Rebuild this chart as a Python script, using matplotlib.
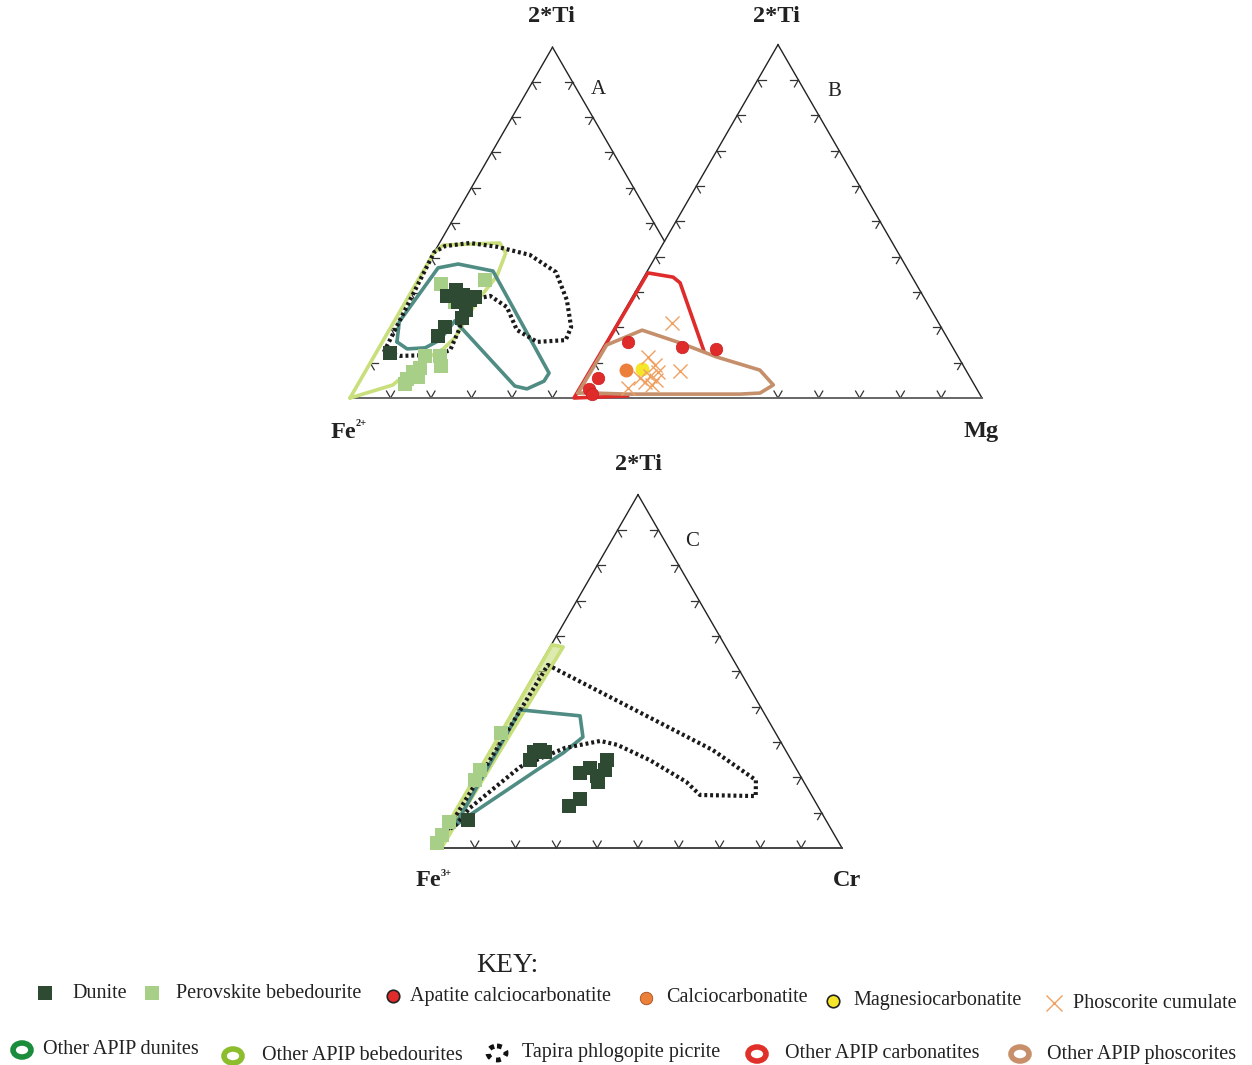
import numpy as np
import matplotlib
matplotlib.use("Agg")
import matplotlib.pyplot as plt
from matplotlib.patches import Ellipse

plt.rcParams['font.family'] = ['Liberation Serif', 'DejaVu Serif']

# ---------------- DATA (ternary %, given as (2*Ti, right-apex component); left apex = remainder) ----
# Diagram A: 2*Ti - Fe2+ - Mg
A_dunite_ti = [12.8, 20.2, 17.7, 29.1, 30.8, 29.4, 27.9, 25.1, 22.8, 27.4, 28.8]
A_dunite_mg = [3.5, 13.4, 12.9, 9.4, 10.8, 13.2, 15.7, 16.1, 16.3, 13.0, 16.5]
A_bebed_ti = [32.5, 33.6, 27.4, 12.0, 12.0, 9.1, 8.6, 7.4, 5.4, 6.0, 4.0]
A_bebed_mg = [6.2, 16.5, 12.2, 12.5, 16.2, 17.9, 13.0, 11.9, 11.4, 13.8, 11.6]
A_field_bebed = [(0, 0), (41.3, 0), (43.6, 1.2), (44.2, 14.9), (41.3, 17.8), (34.8, 18.9),
                 (27.9, 17.6), (17.1, 17.3), (14.0, 16.0), (10.3, 12.2), (3.7, 8.7), (0, 0)]
A_field_dunite = [(16.0, 3.6), (21.7, 1.3), (37.1, 3.2), (38.2, 7.6), (36.2, 17.2), (7.1, 45.6),
                  (4.8, 45.5), (2.6, 42.4), (3.4, 39.0), (22.0, 14.9), (16.5, 13.9), (14.3, 11.4),
                  (14.0, 7.1), (16.0, 3.6)]
A_field_tapira = [(13.1, 1.8), (41.6, 0), (43.3, 1.8), (44.2, 7.5), (43.1, 14.8), (40.8, 24.0),
                  (35.9, 32.9), (27.9, 39.6), (20.2, 44.5), (16.5, 45.0), (16.0, 38.2), (19.4, 31.5),
                  (25.9, 25.8), (29.1, 20.1), (28.5, 17.8), (24.5, 16.1), (19.4, 17.2), (13.7, 17.9),
                  (12.3, 15.4), (12.0, 6.3), (13.1, 1.8)]

# Diagram B: 2*Ti - Fe2+ - Mg
B_apatite_ti = [15.9, 14.4, 13.9, 5.7, 2.5, 1.1]
B_apatite_mg = [5.3, 19.3, 27.9, 3.1, 2.4, 3.8]
B_calcio_ti = [7.9]
B_calcio_mg = [8.7]
B_magnesio_ti = [8.2]
B_magnesio_mg = [12.6]
B_phosc_ti = [21.2, 7.6, 11.6, 9.3, 7.4, 6.2, 4.5, 3.7, 2.8, 5.7, 5.1]
B_phosc_mg = [13.4, 22.2, 12.3, 15.2, 16.9, 15.5, 15.1, 17.3, 11.8, 13.4, 17.6]
B_field_carb = [(0.6, 12.9), (0, 0), (15.9, 0.2), (35.4, 0.4), (34.2, 7.2), (32.6, 9.7), (13.3, 25.2)]
B_field_phosc = [(1.4, 0.3), (15.0, 0.5), (19.2, 7.1), (15.6, 18.2), (11.6, 29.2), (7.9, 41.6),
                 (3.7, 47.0), (1.4, 44.9), (1.1, 40.1), (1.1, 12.4), (1.4, 4.0), (1.4, 0.3)]

# Diagram C: 2*Ti - Fe3+ - Cr
C_dunite_ti = [27.2, 27.7, 24.9, 27.2, 7.9, 21.2, 22.6, 20.4, 24.9, 22.1, 18.7, 13.9, 11.9]
C_dunite_cr = [10.9, 12.1, 11.0, 13.6, 4.3, 25.2, 26.9, 29.8, 29.9, 30.9, 30.9, 28.9, 27.2]
C_bebed_ti = [32.6, 22.1, 19.2, 7.4, 3.7, 1.4]
C_bebed_cr = [0.0, 0.3, 0.4, 0.0, 0.0, 0.0]
C_field_bebed = [(0, 0), (57.5, 0.2), (56.9, 3.2), (0.5, 1.8), (0, 0)]
C_field_dunite = [(39.1, 1.6), (37.4, 17.1), (31.4, 20.8), (26.9, 18.2), (22.1, 14.2),
                  (8.8, 3.7), (6.2, 2.0), (39.1, 1.6)]
C_field_tapira = [(5.1, 0.7), (51.8, 2.0), (27.7, 54.5), (19.2, 69.3), (14.7, 71.5), (15.0, 57.7),
                  (18.7, 52.5), (24.9, 40.4), (29.2, 30.3), (30.3, 25.6), (28.3, 17.9), (22.9, 9.6),
                  (11.3, 3.1), (6.2, 2.0), (5.1, 0.7)]

key_row1 = ["Dunite", "Perovskite bebedourite", "Apatite calciocarbonatite",
            "Calciocarbonatite", "Magnesiocarbonatite", "Phoscorite cumulate"]
key_row2 = ["Other APIP dunites", "Other APIP bebedourites", "Tapira phlogopite picrite",
            "Other APIP carbonatites", "Other APIP phoscorites"]

# ---------------- STYLE / LAYOUT ----------------
C_DUN = '#2f4a33'
C_BEB = '#a8cf88'
C_TEAL = '#4f8c83'
C_LGREEN = '#c8df7c'
C_RED = '#e02b2b'
C_BROWN = '#c58f6b'
C_ORANGE = '#ec7f3a'
C_YELLOW = '#f6e62a'
C_X = '#f0a060'

TRI_A = (350.0, 398.0, 405.0)
TRI_B = (574.0, 398.0, 408.0)
TRI_C = (434.0, 848.0, 408.0)
H = np.sqrt(3) / 2


def tern(tri, ti, right):
    x0, y0, s = tri
    a = np.asarray(ti, float) / 100.0
    c = np.asarray(right, float) / 100.0
    return x0 + s * (c + a / 2), y0 - s * a * H


def field(ax, tri, pts, **kw):
    t = [p[0] for p in pts]
    r = [p[1] for p in pts]
    x, y = tern(tri, t, r)
    ax.plot(x, y, solid_joinstyle='round', solid_capstyle='round', **kw)


fig = plt.figure(figsize=(12.52, 10.65), dpi=100)
ax = fig.add_axes([0, 0, 1, 1])
ax.set_xlim(0, 1252)
ax.set_ylim(1065, 0)
ax.axis('off')

EDGE = dict(color='#222222', lw=1.0, zorder=1)
TICK = dict(color='#333333', lw=0.9, zorder=1)
L = 8.0


def tick(ax, x, y, dirs):
    for dx, dy in dirs:
        ax.plot([x, x + L * dx], [y, y + L * dy], **TICK)


D_UPL = (-0.5, -H)
D_UPR = (0.5, -H)
D_R = (1.0, 0.0)
D_L = (-1.0, 0.0)
D_DR = (0.5, H)
D_DL = (-0.5, H)


def draw_triangle(ax, tri, right_min=0.0, base=True, base_range=(0.05, 0.95)):
    x0, y0, s = tri
    apx, apy = x0 + s / 2, y0 - s * H
    ax.plot([x0, apx], [y0, apy], **EDGE)
    for f in np.arange(1, 10) / 10:
        tick(ax, x0 + s * f / 2, y0 - s * f * H, [D_R, D_DR])
    ex = x0 + s - s * right_min / 2
    ey = y0 - s * right_min * H
    ax.plot([apx, ex], [apy, ey], **EDGE)
    for f in np.arange(1, 10) / 10:
        if f >= right_min:
            tick(ax, x0 + s - s * f / 2, y0 - s * f * H, [D_L, D_DL])
    if base:
        for f in np.arange(1, 10) / 10:
            if base_range[0] <= f <= base_range[1]:
                tick(ax, x0 + s * f, y0, [D_UPL, D_UPR])


# Diagram A (right edge clipped where it meets B's left edge)
xa0, ya0, sa = TRI_A
xb0, yb0, sb = TRI_B
x_int = (xa0 + sa + xb0) / 2
a_int = 2 * (xa0 + sa - x_int) / sa
draw_triangle(ax, TRI_A, right_min=a_int, base_range=(0.05, 0.55))
draw_triangle(ax, TRI_B, base_range=(0.45, 0.95))
ax.plot([xa0, xb0 + sb], [ya0, yb0], color='#666666', lw=1.4, zorder=1)
draw_triangle(ax, TRI_C, base=False)
xc0, yc0, sc = TRI_C
ax.plot([xc0, xc0 + sc], [yc0, yc0], color='#444444', lw=1.4, zorder=1)
for f in np.arange(1, 10) / 10:
    tick(ax, xc0 + sc * f, yc0, [D_UPL, D_UPR])

LW = 2.6
DOT = dict(color='#1a1a1a', lw=3.0, linestyle=(0, (0.7, 0.7)), zorder=4)

# ---- fields A
field(ax, TRI_A, A_field_bebed, color=C_LGREEN, lw=LW, zorder=2)
field(ax, TRI_A, A_field_dunite, color=C_TEAL, lw=LW, zorder=3)
field(ax, TRI_A, A_field_tapira, **DOT)
# ---- fields B
field(ax, TRI_B, B_field_carb, color=C_RED, lw=LW, zorder=2)
field(ax, TRI_B, B_field_phosc, color=C_BROWN, lw=LW, zorder=3)
# ---- fields C
field(ax, TRI_C, C_field_bebed, color=C_LGREEN, lw=LW, zorder=2)
x, y = tern(TRI_C, [p[0] for p in C_field_bebed], [p[1] for p in C_field_bebed])
ax.fill(x, y, color=C_LGREEN, alpha=0.6, zorder=2, lw=0)
field(ax, TRI_C, C_field_dunite, color=C_TEAL, lw=LW, zorder=3)
field(ax, TRI_C, C_field_tapira, **DOT)

SQ = dict(marker='s', ms=9.5, linestyle='none', mew=0)
CI = dict(marker='o', ms=9.0, linestyle='none')

x, y = tern(TRI_A, A_bebed_ti, A_bebed_mg)
ax.plot(x, y, color=C_BEB, zorder=5, **SQ)
x, y = tern(TRI_A, A_dunite_ti, A_dunite_mg)
ax.plot(x, y, color=C_DUN, zorder=6, **SQ)

x, y = tern(TRI_B, B_apatite_ti, B_apatite_mg)
ax.plot(x, y, color=C_RED, mec='#c82020', mew=0.5, zorder=6, **CI)
x, y = tern(TRI_B, B_calcio_ti, B_calcio_mg)
ax.plot(x, y, color=C_ORANGE, mec=C_ORANGE, zorder=6, **CI)
x, y = tern(TRI_B, B_magnesio_ti, B_magnesio_mg)
ax.plot(x, y, color=C_YELLOW, mec=C_YELLOW, zorder=6, **CI)
x, y = tern(TRI_B, B_phosc_ti, B_phosc_mg)
ax.plot(x, y, marker='x', ms=10, mew=1.0, color=C_X, linestyle='none', zorder=7)

x, y = tern(TRI_C, C_bebed_ti, C_bebed_cr)
ax.plot(x, y, color=C_BEB, zorder=5, **SQ)
x, y = tern(TRI_C, C_dunite_ti, C_dunite_cr)
ax.plot(x, y, color=C_DUN, zorder=6, **SQ)

# ---- vertex labels
VL = dict(fontsize=17.5, fontweight='bold', ha='center', va='center', color='#222222')
SUP = dict(fontsize=7.5, fontweight='bold', ha='left', va='center', color='#222222')
ax.text(xa0 + sa / 2 - 1, 17, '2*Ti', **VL)
ax.text(xb0 + sb / 2 - 2, 17, '2*Ti', **VL)
ax.text(xc0 + sc / 2, 465, '2*Ti', **VL)
ax.text(343, 432, 'Fe', **VL)
ax.text(356, 424, '2+', **SUP)
ax.text(981, 432, 'Mg', **VL)
ax.text(428, 881, 'Fe', **VL)
ax.text(441, 873, '3+', **SUP)
ax.text(847, 881, 'Cr', **VL)
PL = dict(fontsize=15, ha='center', va='center', color='#222222')
ax.text(598, 89, 'A', **PL)
ax.text(834, 91, 'B', **PL)
ax.text(692, 541, 'C', **PL)

# ---- KEY
ax.text(507, 965, 'KEY:', fontsize=20, ha='center', va='center', color='#222222')
KT = dict(fontsize=14.5, ha='left', va='center', color='#222222')
row1_icon_x = [45, 152, 393, 646, 833, 1054]
row1_text_x = [72, 176, 410, 666, 853, 1073]
row1_y = [993, 993, 996, 998, 1001, 1003]
icons1 = [dict(marker='s', color=C_DUN, ms=10, mew=0),
          dict(marker='s', color=C_BEB, ms=10, mew=0),
          dict(marker='o', color=C_RED, mec='#222222', ms=9, mew=1.2),
          dict(marker='o', color=C_ORANGE, mec='#a05020', ms=9, mew=0.6),
          dict(marker='o', color=C_YELLOW, mec='#222222', ms=9, mew=1.2),
          dict(marker='x', color=C_X, ms=11, mew=1.0)]
for lab, ix, tx, yy, ic in zip(key_row1, row1_icon_x, row1_text_x, row1_y, icons1):
    ax.plot([ix], [yy], linestyle='none', **ic)
    ax.text(tx, yy, lab, **KT)

row2_icon_x = [22, 233, 497, 757, 1020]
row2_text_x = [43, 262, 522, 785, 1047]
row2_y = [1050, 1056, 1053, 1054, 1054]
ring_cols = ['#1a8c3c', '#8cbd2c', None, '#e0302a', '#c8906a']
for lab, ix, tx, yy, rc in zip(key_row2, row2_icon_x, row2_text_x, row2_y, ring_cols):
    if rc is None:
        ax.add_patch(Ellipse((ix, yy), 18, 14, fill=False, ec='#111111', lw=3.5,
                             linestyle=(0, (1.0, 1.2)), zorder=5))
    else:
        ax.add_patch(Ellipse((ix, yy), 18, 14, fill=False, ec=rc, lw=4.0, zorder=5))
    ax.text(tx, yy, lab, **KT)

fig.savefig('out.png', dpi=100)
